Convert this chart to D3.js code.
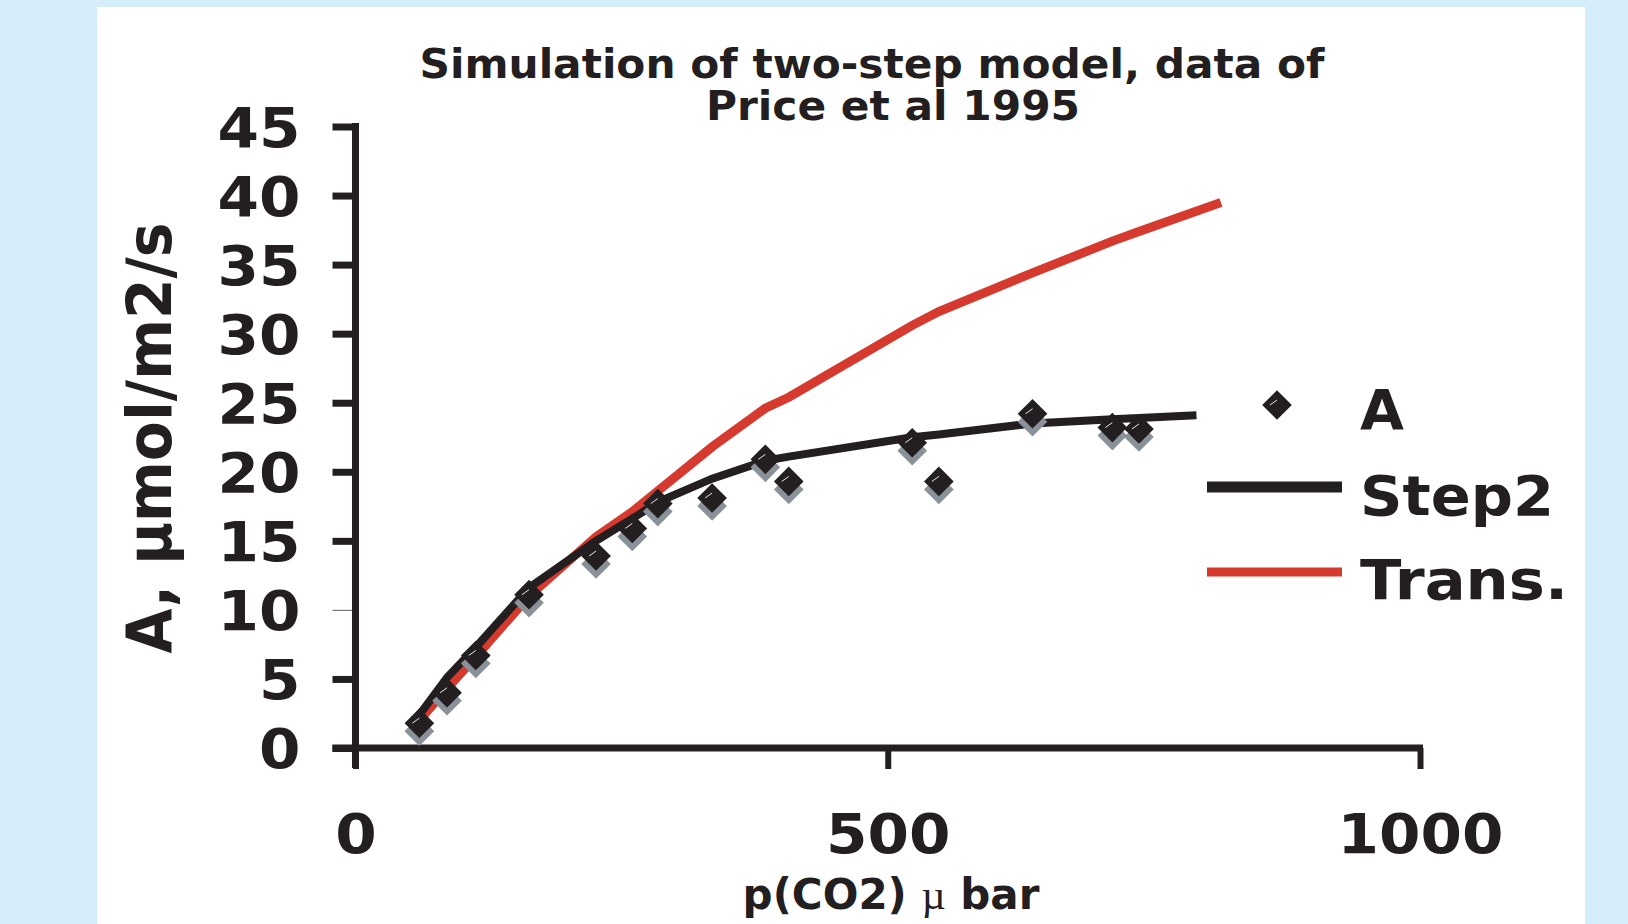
<!DOCTYPE html>
<html>
<head>
<style>
body {
	margin: 0;
	background: #d5ecf9;
}
text {
	font-family: "DejaVu Sans", Verdana, sans-serif;
	font-weight: bold;
	fill: #231f20;
}
</style>
</head>
<body>

<svg id="chart" width="1628" height="924"></svg>

<script src="https://d3js.org/d3.v7.min.js"></script>
<script>

// measured points (A)
let pointsX = [60, 86, 113, 163, 226, 260, 284, 335, 385, 407, 523, 548, 636, 711, 736];
let pointsA = [1.8, 4.0, 6.7, 11.1, 13.9, 15.9, 17.7, 18.1, 20.9, 19.3, 22.1, 19.3, 24.2, 23.2, 23.1];

// model curves
let step2X = [60, 86, 113, 163, 226, 260, 284, 335, 385, 407, 523, 548, 636, 711, 736, 790];
let step2Y = [2.4, 5.1, 7.3, 11.6, 15.0, 16.6, 17.8, 19.5, 20.8, 21.1, 22.5, 22.7, 23.5, 23.8, 23.9, 24.1];
let transX = [60, 86, 113, 163, 226, 260, 284, 335, 385, 407, 523, 548, 636, 711, 736, 813];
let transY = [2.0, 4.3, 6.6, 11.0, 15.3, 17.1, 18.6, 21.8, 24.6, 25.4, 30.6, 31.6, 34.4, 36.7, 37.4, 39.5];

let yTicks = [0, 5, 10, 15, 20, 25, 30, 35, 40, 45];
let xTicks = [0, 500, 1000];
let legendNames = ['A', 'Step2', 'Trans.'];

let ink = '#231f20', red = '#d6392e', shadow = '#8a9299';

let svg = d3.select('#chart');

svg.append('rect')
	.attr('x', 97).attr('y', 7)
	.attr('width', 1488).attr('height', 930)
	.attr('fill', 'white');

let x = d3.scaleLinear().domain([0, 1000]).range([355.5, 1420]);
let y = d3.scaleLinear().domain([0, 45]).range([748, 126.5]);

// title
svg.append('text')
	.attr('x', 872).attr('y', 78)
	.attr('text-anchor', 'middle')
	.attr('textLength', 905).attr('lengthAdjust', 'spacingAndGlyphs')
	.style('font-size', '40px')
	.text('Simulation of two-step model, data of');
svg.append('text')
	.attr('x', 893).attr('y', 120)
	.attr('text-anchor', 'middle')
	.attr('textLength', 374).attr('lengthAdjust', 'spacingAndGlyphs')
	.style('font-size', '40px')
	.text('Price et al 1995');

// tick labels are set in a wide face, about 41.5px per digit
function digitLength(d) { return String(d).length * 41.5; }

// y axis
let gy = svg.append('g')
	.attr('transform', 'translate(' + x(0) + ',0)')
	.call(d3.axisLeft(y).tickValues(yTicks).tickSize(23).tickPadding(32));
gy.select('.domain').remove();
gy.selectAll('.tick line').attr('stroke', ink).attr('stroke-width', 7);
gy.selectAll('.tick').filter(function(d) { return d === 10; }).select('line')
	.attr('stroke', '#777').attr('stroke-width', 1.2);
gy.selectAll('.tick text')
	.attr('dy', '0.36em')
	.attr('textLength', digitLength)
	.attr('lengthAdjust', 'spacingAndGlyphs')
	.style('font-size', '55px');

// x axis
let gx = svg.append('g')
	.attr('transform', 'translate(0,' + y(0) + ')')
	.call(d3.axisBottom(x).tickValues(xTicks).tickSize(21).tickFormat(d3.format('d')));
gx.select('.domain').remove();
gx.selectAll('.tick line').attr('stroke', ink).attr('stroke-width', 6);
gx.selectAll('.tick text')
	.attr('y', 105).attr('dy', 0)
	.attr('textLength', digitLength)
	.attr('lengthAdjust', 'spacingAndGlyphs')
	.style('font-size', '55px');

svg.append('line')
	.attr('x1', x(0)).attr('x2', x(0))
	.attr('y1', y(45) - 3.5).attr('y2', y(0) + 20)
	.attr('stroke', ink).attr('stroke-width', 7);
svg.append('line')
	.attr('x1', x(0) - 23).attr('x2', x(1000) + 3)
	.attr('y1', y(0)).attr('y2', y(0))
	.attr('stroke', ink).attr('stroke-width', 7);

// axis titles
svg.append('text')
	.attr('transform', 'translate(171,438) rotate(-90)')
	.attr('text-anchor', 'middle')
	.attr('textLength', 431).attr('lengthAdjust', 'spacingAndGlyphs')
	.style('font-size', '62px')
	.text('A, \u00b5mol/m2/s');

let xt = svg.append('text')
	.attr('x', 891).attr('y', 909)
	.attr('text-anchor', 'middle')
	.style('font-size', '42px');
xt.append('tspan').text('p(CO2) ');
xt.append('tspan')
	.style('font-family', '"Liberation Serif", serif')
	.style('font-weight', 'normal')
	.text('\u00b5');
xt.append('tspan').text(' bar');

// curves
let line = d3.line()
	.x(function(d) { return x(d[0]); })
	.y(function(d) { return y(d[1]); });

svg.append('path')
	.datum(d3.zip(transX, transY))
	.attr('d', line)
	.attr('fill', 'none')
	.attr('stroke', red)
	.attr('stroke-width', 9);

svg.append('path')
	.datum(d3.zip(step2X, step2Y))
	.attr('d', line)
	.attr('fill', 'none')
	.attr('stroke', ink)
	.attr('stroke-width', 8);

// diamonds
let diamond = d3.symbol().type(d3.symbolSquare).size(440);
let pts = d3.zip(pointsX, pointsA);

svg.append('g').selectAll('path').data(pts).join('path')
	.attr('d', diamond)
	.attr('transform', function(d) { return 'translate(' + x(d[0]) + ',' + (y(d[1]) + 8) + ') rotate(45)'; })
	.attr('fill', shadow);

function drawDiamond(g) {
	g.append('path')
		.attr('d', diamond)
		.attr('transform', 'rotate(45)')
		.attr('fill', ink);
	g.append('line')
		.attr('x1', -7).attr('y1', 0)
		.attr('x2', 0).attr('y2', -5)
		.attr('stroke', '#e8e8e8')
		.attr('stroke-width', 1);
}

svg.append('g').selectAll('g').data(pts).join('g')
	.attr('transform', function(d) { return 'translate(' + x(d[0]) + ',' + y(d[1]) + ')'; })
	.each(function() { drawDiamond(d3.select(this)); });

// legend
let legend = svg.append('g');
drawDiamond(legend.append('g').attr('transform', 'translate(1277,405)'));
legend.append('line')
	.attr('x1', 1207).attr('x2', 1342)
	.attr('y1', 487).attr('y2', 487)
	.attr('stroke', ink).attr('stroke-width', 11);
legend.append('line')
	.attr('x1', 1207).attr('x2', 1342)
	.attr('y1', 572).attr('y2', 572)
	.attr('stroke', red).attr('stroke-width', 9);

let legendBase = [429, 515, 599];
let legendWidth = [44, 194, 208];
legend.selectAll('text').data(legendNames).join('text')
	.attr('x', 1360)
	.attr('y', function(d, i) { return legendBase[i]; })
	.attr('textLength', function(d, i) { return legendWidth[i]; })
	.attr('lengthAdjust', 'spacingAndGlyphs')
	.style('font-size', '55px')
	.text(function(d) { return d; });

</script>
</body>
</html>
